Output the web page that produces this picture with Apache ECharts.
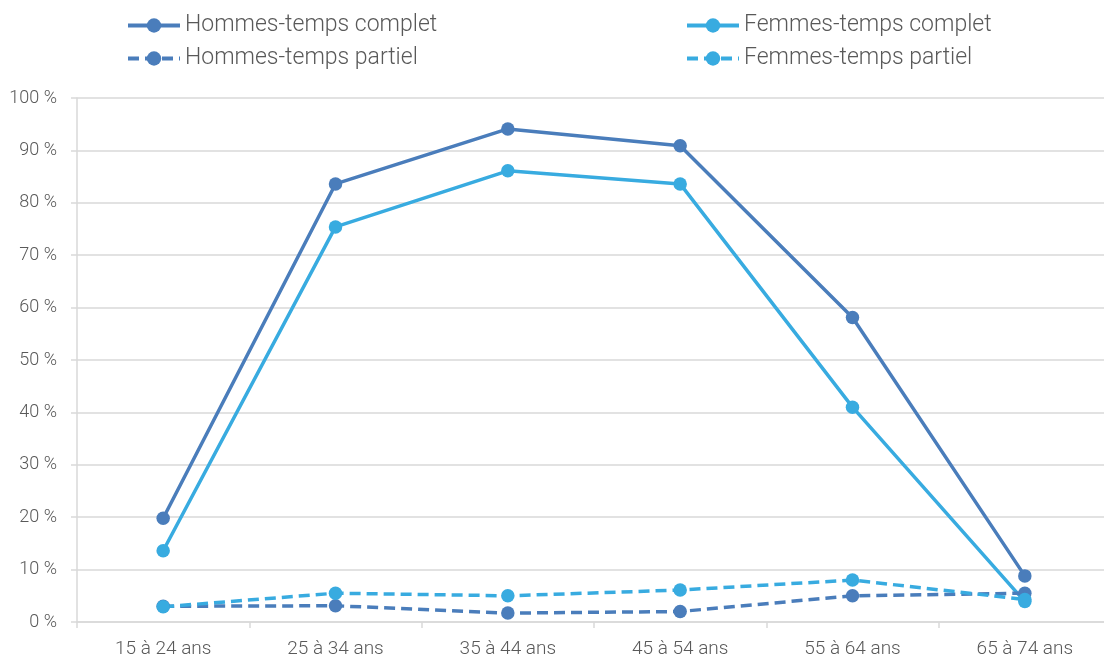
<!DOCTYPE html>
<html><head><meta charset="utf-8">
<script src="https://cdn.jsdelivr.net/npm/echarts@6/dist/echarts.min.js"></script>
<style>html,body{margin:0;padding:0;background:#fff}#c{width:1104px;height:657px}</style>
</head><body><div id="c"></div>
<script>
const categories = ['15 à 24 ans','25 à 34 ans','35 à 44 ans','45 à 54 ans','55 à 64 ans','65 à 74 ans'];
const hommesComplet = [19.8, 83.6, 94.1, 90.9, 58.1, 8.8];
const femmesComplet = [13.6, 75.4, 86.1, 83.6, 41.0, 3.9];
const hommesPartiel = [3.0, 3.1, 1.7, 2.0, 5.0, 5.5];
const femmesPartiel = [2.9, 5.5, 5.0, 6.1, 8.0, 4.3];
const seriesNames = ['Hommes-temps complet','Femmes-temps complet','Hommes-temps partiel','Femmes-temps partiel'];
const yTicks = {min:0, max:100, interval:10};

const cH = '#4a7dbb', cF = '#38abe0';
const font = 'Roboto';
function mk(name, data, color, dashed){
  return {name, type:'line', data, symbol:'circle', symbolSize:13.5,
    itemStyle:{color}, lineStyle:{color, width:3.5, type: dashed ? [11,6] : 'solid'},
    emphasis:{disabled:true}, z: dashed?3:2};
}
function lg(name, left, top){
  return {data:[name], left, top, itemWidth:52, itemHeight:18, itemGap:0,
    lineStyle:{width:4},
    textStyle:{fontFamily:font, fontWeight:300, fontSize:23, color:'#595959'}};
}
const chart = echarts.init(document.getElementById('c'));
chart.setOption({
  animation:false,
  legend:[lg(seriesNames[0],121,9), lg(seriesNames[1],680,9), lg(seriesNames[2],121,42), lg(seriesNames[3],680,42)],
  grid:{left:77, top:98, width:1034, height:524, containLabel:false, outerBoundsMode:'none'},
  xAxis:{type:'category', data:categories, boundaryGap:true,
    axisLine:{lineStyle:{color:'#d9d9d9', width:1.5}},
    axisTick:{show:true, length:6, lineStyle:{color:'#d9d9d9', width:1.5}},
    axisLabel:{fontFamily:font, fontWeight:300, fontSize:19, color:'#595959', margin:18}},
  yAxis:{type:'value', min:yTicks.min, max:yTicks.max, interval:yTicks.interval,
    axisLine:{show:true, lineStyle:{color:'#d9d9d9', width:1.5}},
    axisTick:{show:true, length:6, lineStyle:{color:'#d9d9d9', width:1.5}},
    splitLine:{lineStyle:{color:'#d9d9d9', width:1.5}},
    axisLabel:{fontFamily:font, fontWeight:300, fontSize:18, color:'#595959', margin:20, formatter:'{value} %'}},
  series:[
    mk(seriesNames[0], hommesComplet, cH, false),
    mk(seriesNames[1], femmesComplet, cF, false),
    mk(seriesNames[2], hommesPartiel, cH, true),
    mk(seriesNames[3], femmesPartiel, cF, true)
  ]
});
</script></body></html>
